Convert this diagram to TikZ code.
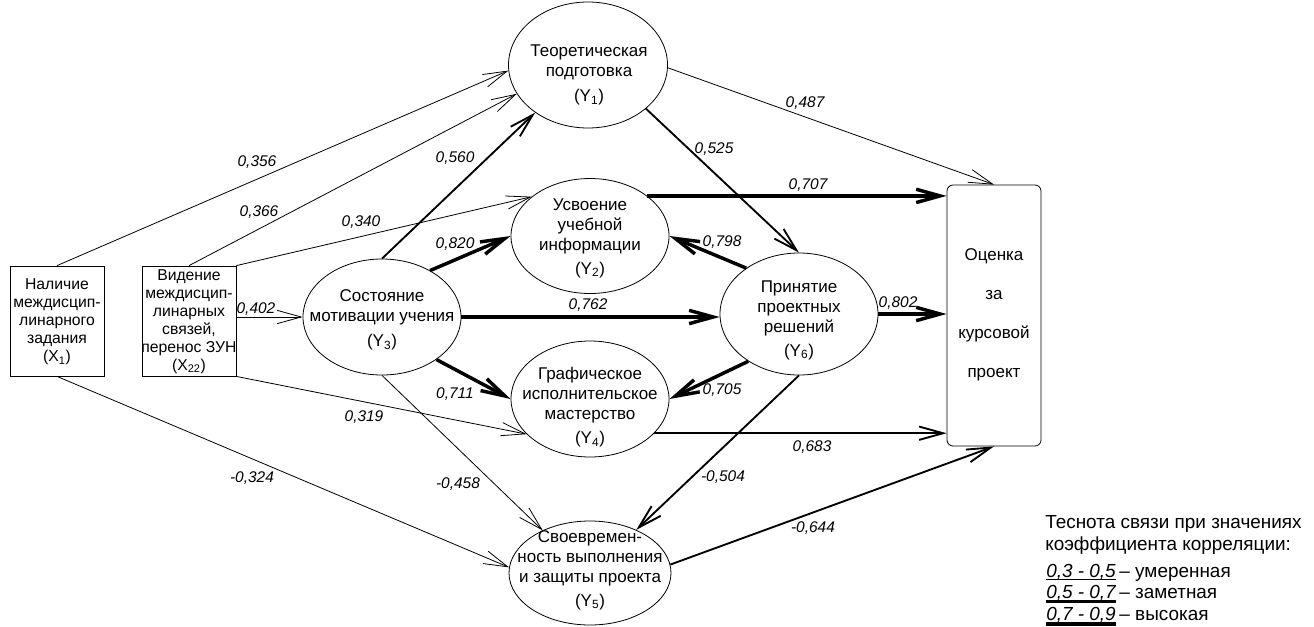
\documentclass[tikz,border=0pt]{standalone}
\usepackage{fontspec}
\setmainfont{Liberation Sans}
\usetikzlibrary{arrows.meta,shapes.geometric}
\newcommand{\sbY}[1]{(Y\textsubscript{#1})}
\newcommand{\sbX}[1]{(X\textsubscript{#1})}
\begin{document}
\begin{tikzpicture}[x=0.75pt,y=-0.75pt,
  oval/.style={shape=ellipse,draw,line width=0.6pt,inner sep=0pt},
  box/.style={shape=rectangle,draw,line width=0.6pt,inner sep=0pt},
  txt/.style={align=center,inner sep=0pt,font=\fontsize{12.75}{15}\selectfont},
  boxtxt/.style={align=center,inner sep=0pt,font=\fontsize{11.8}{13.5}\selectfont},
  num/.style={inner sep=0pt,font=\fontsize{11.6}{13}\selectfont\itshape},
  leg/.style={inner sep=0pt,font=\fontsize{14.2}{17}\selectfont},
  legnum/.style={inner sep=0pt,font=\fontsize{14.2}{17}\selectfont\itshape},
  arr/.style={-{Straight Barb[length=18pt,width=10pt]}},
  wA/.style={arr,line width=0.6pt},
  wB/.style={arr,line width=1.4pt},
  wC/.style={arr,line width=2.6pt}]
\useasboundingbox (0,0) rectangle (1314,626);

% factor boxes
\node[box,minimum width=70.5pt,minimum height=82.5pt] (X1) at (57,321) {};
\node[boxtxt] (X1t) at (57,322) {Наличие\\междисцип-\\линарного\\задания\\\sbX{1}};
\node[box,minimum width=70.5pt,minimum height=82.5pt] (X22) at (189,321) {};
\node[boxtxt] (X22t) at (189,321.5) {Видение\\междисцип-\\линарных\\связей,\\перенос ЗУН\\\sbX{22}};

% latent variables
\node[oval,minimum width=119.25pt,minimum height=94.5pt] (Y1) at (588,65) {};
\node[txt] (Y1t) at (589,75) {Теоретическая\\подготовка\\[3.75pt]\sbY{1}};
\node[oval,minimum width=118.5pt,minimum height=86.25pt] (Y2) at (590,236) {};
\node[txt] (Y2t) at (590,238) {Усвоение\\учебной\\информации\\[3pt]\sbY{2}};
\node[oval,minimum width=118.5pt,minimum height=87pt] (Y3) at (382,317) {};
\node[txt] (Y3t) at (382,320) {Состояние\\мотивации учения\\[3.75pt]\sbY{3}};
\node[oval,minimum width=118.5pt,minimum height=87pt] (Y4) at (590,399) {};
\node[txt] (Y4t) at (590,407) {Графическое\\исполнительское\\мастерство\\[3pt]\sbY{4}};
\node[oval,minimum width=121.5pt,minimum height=78pt] (Y5) at (590,573) {};
\node[txt] (Y5t) at (590,570) {Своевремен-\\ность выполнения\\и защиты проекта\\[3pt]\sbY{5}};
\node[oval,minimum width=118.5pt,minimum height=91.5pt] (Y6) at (799,314) {};
\node[txt] (Y6t) at (799,320) {Принятие\\проектных\\решений\\[3pt]\sbY{6}};

% outcome
\node[box,rounded corners=4.5pt,minimum width=70.5pt,minimum height=195.75pt] (OK) at (994,315.5) {};
\node[align=center,inner sep=0pt,font=\fontsize{12.75}{29.25}\selectfont] (OKt) at (994,315) {Оценка\\за\\курсовой\\проект};

% connections, weak
\draw[wA] (X1.north) -- (Y1.184);
\draw[wA] (X22.north) -- (Y1.202);
\draw[wA] (X22.north east) -- (Y2.146);
\draw[wA] (X22.east |- Y3.west) -- (Y3.west);
\draw[wA] (X22.south east) -- (Y4.209);
\draw[wA] (X1.south) -- (Y5.176);
\draw[wA] (Y3.south) -- (Y5.138);
\draw[wA] (Y1.-2) -- (OK.north);

% connections, noticeable
\draw[wB] (Y3.north) -- (Y1.222);
\draw[wB] (Y1.-37) -- (Y6.north);
\draw[wB] (Y6.south) -- (Y5.43);
\draw[wB] (Y4.-28) -- (Y4.-28 -| OK.west);
\draw[wB] (Y5.6) -- (OK.south);

% connections, strong
\draw[wC] (Y3.44) -- (Y2.west);
\draw[wC] (Y3.east) -- (Y3.east -| Y6.west);
\draw[wC] (Y3.-38) -- (Y4.west);
\draw[wC] (Y6.139) -- (Y2.east);
\draw[wC] (Y6.223) -- (Y4.east);
\draw[wC] (Y2.35) -- (Y2.35 -| OK.west);
\draw[wC] (Y6.east) -- (Y6.east -| OK.west);

% coefficients
\node[num] (c1) at (257,162) {0,356};
\node[num] (c2) at (259,212) {0,366};
\node[num] (c3) at (361,222) {0,340};
\node[num] (c4) at (256,309) {0,402};
\node[num] (c5) at (364,417) {0,319};
\node[num] (c6) at (252,478) {-0,324};
\node[num] (c7) at (455,158) {0,560};
\node[num] (c8) at (455,244) {0,820};
\node[num] (c9) at (588,305) {0,762};
\node[num] (c10) at (455,394) {0,711};
\node[num] (c11) at (458,484) {-0,458};
\node[num] (c12) at (714,149) {0,525};
\node[num] (c13) at (805,103) {0,487};
\node[num] (c14) at (808,185) {0,707};
\node[num] (c15) at (722,242) {0,798};
\node[num] (c16) at (898,303) {0,802};
\node[num] (c17) at (722,390) {0,705};
\node[num] (c18) at (812,447) {0,683};
\node[num] (c19) at (723,477) {-0,504};
\node[num] (c20) at (813,528) {-0,644};

% legend
\node[leg,anchor=base west] (lg1) at (1045,528) {Теснота связи при значениях};
\node[leg,anchor=base west] (lg2) at (1045,550) {коэффициента корреляции:};
\node[legnum,anchor=base west] (r1) at (1046,577) {0,3 - 0,5};
\node[leg,anchor=base west] (r1t) at (r1.base east) {\,– умеренная};
\node[legnum,anchor=base west] (r2) at (1046,598) {0,5 - 0,7};
\node[leg,anchor=base west] (r2t) at (r2.base east) {\,– заметная};
\node[legnum,anchor=base west] (r3) at (1046,620) {0,7 - 0,9};
\node[leg,anchor=base west] (r3t) at (r3.base east) {\,– высокая};
\draw[line width=0.8pt] ([yshift=-2.2pt]r1.base west) -- ([yshift=-2.2pt]r1.base east);
\draw[line width=2pt] ([yshift=-2.6pt]r2.base west) -- ([yshift=-2.6pt]r2.base east);
\draw[line width=3.2pt] ([yshift=-3.2pt]r3.base west) -- ([yshift=-3.2pt]r3.base east);
\end{tikzpicture}
\end{document}
